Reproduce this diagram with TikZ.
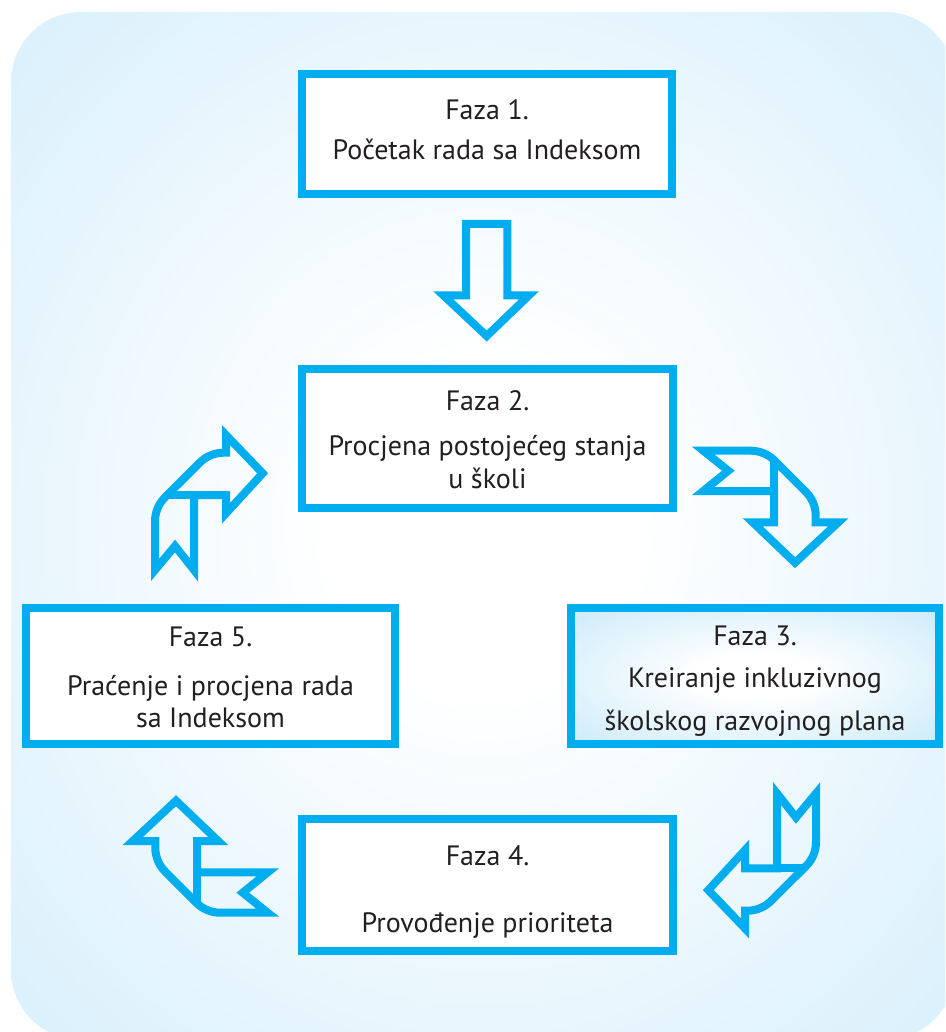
\documentclass[tikz,border=0pt]{standalone}
\usepackage{fontspec}
\setmainfont{PT Sans}
\definecolor{cyanb}{RGB}{0,174,239}
\definecolor{bgblue}{RGB}{196,232,250}
\definecolor{bthree}{RGB}{176,224,247}
\definecolor{txtc}{RGB}{35,31,32}
\pgfdeclareradialshading{bgshade}{\pgfpoint{0bp}{0bp}}{color(0bp)=(white); color(8bp)=(white); color(50bp)=(bgblue); color(100bp)=(bgblue)}
\pgfdeclareradialshading{boxshade}{\pgfpoint{0bp}{0bp}}{color(0bp)=(white); color(8bp)=(white); color(50bp)=(bthree); color(100bp)=(bthree)}
\tikzset{
  arr/.style={draw=cyanb, line width=8pt, line join=miter},
  box/.style={draw=cyanb, line width=8pt, inner sep=0pt, rectangle},
  txt/.style={font=\fontsize{28}{32}\selectfont, text=txtc, anchor=base, inner sep=0pt}
}
\begin{document}
\begin{tikzpicture}[x=1pt,y=-1pt]
\useasboundingbox (0,0) rectangle (945,1032);
\clip (0,0) rectangle (945,1032);
\shade[shading=bgshade, rounded corners=70pt] (11,12) rectangle (955,1040);

% boxes
\node[box, fill=white, minimum width=370pt, minimum height=120pt] (b1) at (487,134) {};
\node[box, fill=white, minimum width=371pt, minimum height=139pt] (b2) at (487.5,438.5) {};
\node[box, shade, shading=boxshade, minimum width=368pt, minimum height=136pt] (b3) at (755,676) {};
\node[box, fill=white, minimum width=369pt, minimum height=136pt] (b5) at (210.5,676) {};
\node[box, fill=white, minimum width=371pt, minimum height=132pt] (b4) at (487.5,885) {};

% texts
\node[txt] (t1a) at (487,120) {Faza 1.};
\node[txt] (t1b) at (487,160) {Početak rada sa Indeksom};
\node[txt] (t2a) at (487.5,410) {Faza 2.};
\node[txt] (t2b) at (487.5,455) {Procjena postojećeg stanja};
\node[txt] (t2c) at (487.5,488) {u školi};
\node[txt] (t3a) at (755,645) {Faza 3.};
\node[txt] (t3b) at (755,687) {Kreiranje inkluzivnog};
\node[txt] (t3c) at (755,730) {školskog razvojnog plana};
\node[txt] (t5a) at (210.5,646) {Faza 5.};
\node[txt] (t5b) at (210.5,695) {Praćenje i procjena rada};
\node[txt] (t5c) at (210.5,727) {sa Indeksom};
\node[txt] (t4a) at (487.5,865) {Faza 4.};
\node[txt] (t4b) at (487.5,932) {Provođenje prioriteta};

% arrow 1 -> 2 (straight down)
\draw[arr] (466,224) -- (507.3,224) -- (507.3,295.3) -- (529,295.3) -- (486.7,336) -- (443.3,295.3) -- (466,295.3) -- cycle;

% arrow 2 -> 3
\draw[arr] (703.3,450.7) -- (750.7,450.7) .. controls (759.7,450.7) and (768.3,454.3) .. (774.6,460.6) -- (805.8,491.8) .. controls (812.1,498.1) and (815.7,506.7) .. (815.7,515.7) -- (815.7,522.3) -- (838.3,522.3) -- (795,562.7) -- (752.7,522.3) -- (774,522.3) -- (774,491) -- (703.3,491) -- (728.3,470.7) -- cycle;
\draw[arr] (774,491) -- (774,460);

% arrow 5 -> 2
\draw[arr] (155,570) -- (155,521.3) .. controls (155,512.3) and (158.6,503.7) .. (164.9,497.4) -- (199.8,462.6) .. controls (206.1,456.3) and (214.7,452.7) .. (223.7,452.7) -- (226,452.7) -- (226,435) -- (262.7,473.3) -- (226,513.3) -- (226,495) -- (194,495) -- (194,570) -- (175,546) -- cycle;
\draw[arr] (194,495) -- (167.3,495);

\begin{scope}[rotate around={180:(485.5,681.7)}]
% arrow 4 -> 5
\draw[arr] (703.3,450.7) -- (750.7,450.7) .. controls (759.7,450.7) and (768.3,454.3) .. (774.6,460.6) -- (805.8,491.8) .. controls (812.1,498.1) and (815.7,506.7) .. (815.7,515.7) -- (815.7,522.3) -- (838.3,522.3) -- (795,562.7) -- (752.7,522.3) -- (774,522.3) -- (774,491) -- (703.3,491) -- (728.3,470.7) -- cycle;
\draw[arr] (774,491) -- (774,460);
% arrow 3 -> 4
\draw[arr] (155,570) -- (155,521.3) .. controls (155,512.3) and (158.6,503.7) .. (164.9,497.4) -- (199.8,462.6) .. controls (206.1,456.3) and (214.7,452.7) .. (223.7,452.7) -- (226,452.7) -- (226,435) -- (262.7,473.3) -- (226,513.3) -- (226,495) -- (194,495) -- (194,570) -- (175,546) -- cycle;
\draw[arr] (194,495) -- (167.3,495);
\end{scope}
\end{tikzpicture}
\end{document}
